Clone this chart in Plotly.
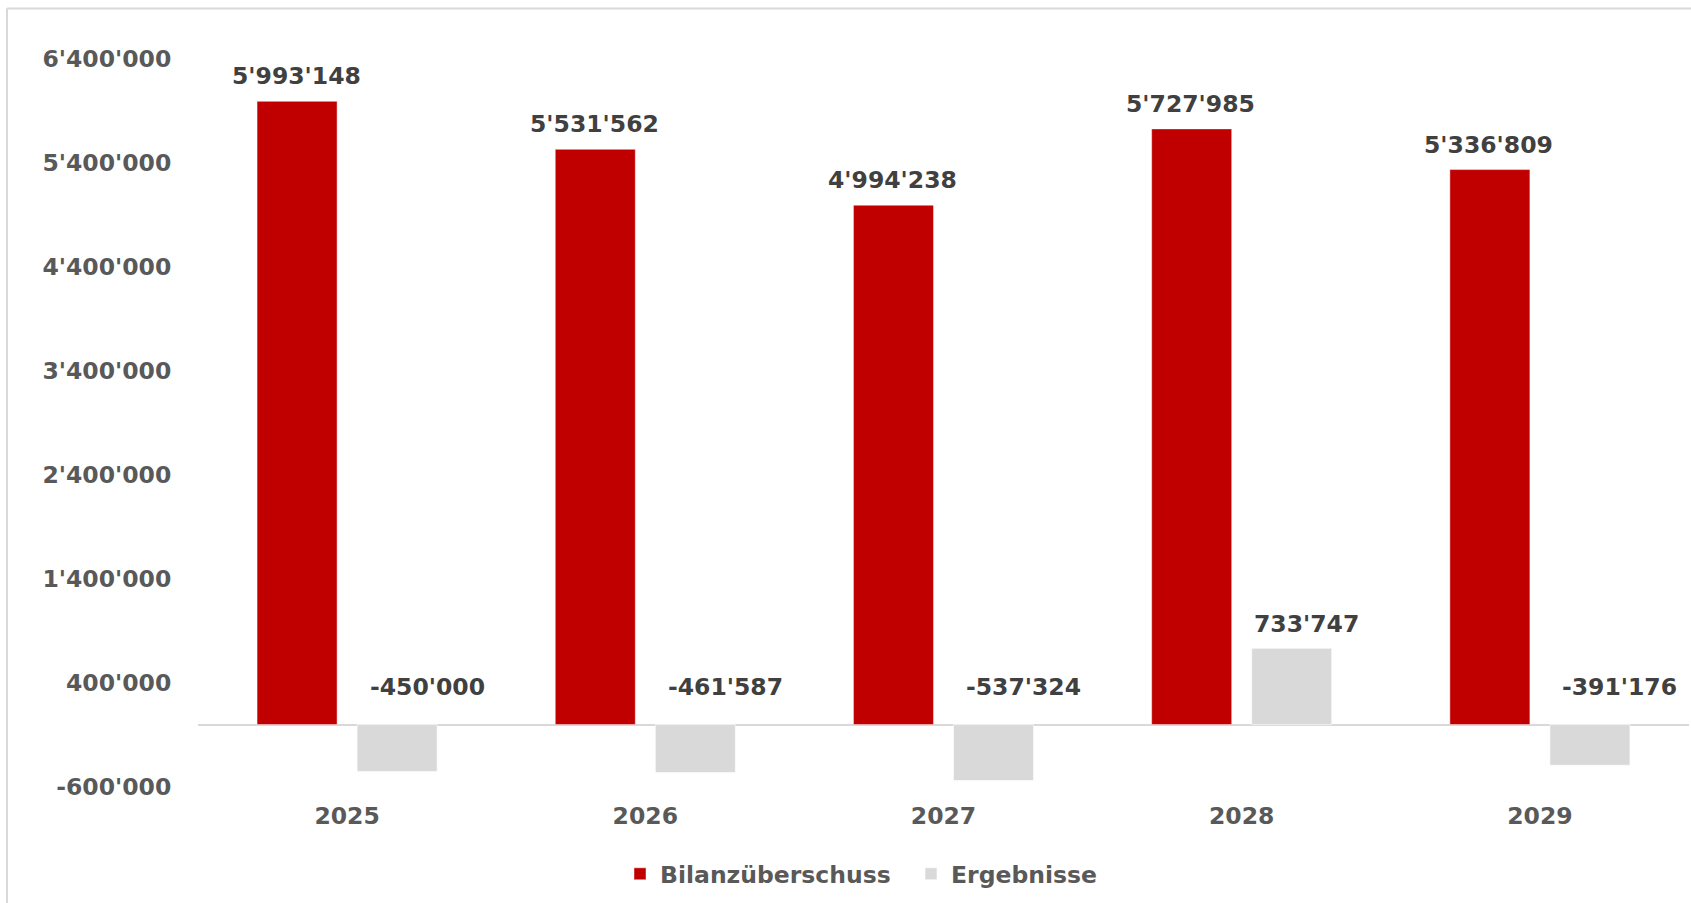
import plotly.graph_objects as go

# ---- data ----
years = ["2025", "2026", "2027", "2028", "2029"]
bilanzueberschuss = [5993148, 5531562, 4994238, 5727985, 5336809]
ergebnisse = [-450000, -461587, -537324, 733747, -391176]
y_ticks = [-600000, 400000, 1400000, 2400000, 3400000, 4400000, 5400000, 6400000]


def fmt(v):
    return f"{v:,}".replace(",", "'")


RED = "#C00000"
GREY = "#D9D9D9"
TICK_COLOR = "#595959"
LABEL_COLOR = "#404040"
FONT = "DejaVu Sans"
FS = 23.5

W, H = 1691, 903
M_L, M_R, M_T, M_B = 198, 2, 59, 116
plot_w = W - M_L - M_R
plot_h = H - M_T - M_B

bargap = 0.329
bargroupgap = 0.2
half_offset = (1 - bargap) / 4  # centre offset of each bar in a 2-bar group

fig = go.Figure()
fig.add_trace(go.Bar(
    name="Bilanzüberschuss", x=years, y=bilanzueberschuss,
    marker=dict(color=RED, line=dict(color="rgba(255,255,255,0.45)", width=1)),
))
fig.add_trace(go.Bar(
    name="Ergebnisse", x=years, y=ergebnisse,
    marker=dict(color=GREY, line=dict(color="rgba(255,255,255,0.6)", width=1)),
))

label_font = dict(family=FONT, size=FS, color=LABEL_COLOR, weight="bold")
annotations = []
for i, v in enumerate(bilanzueberschuss):
    annotations.append(dict(
        x=i - half_offset, y=v, xref="x", yref="y", text=fmt(v),
        showarrow=False, yanchor="middle", xanchor="center", yshift=25, xshift=-1,
        font=label_font,
    ))
for i, v in enumerate(ergebnisse):
    if v >= 0:
        annotations.append(dict(
            x=i + half_offset, y=v, xref="x", yref="y", text=fmt(v),
            showarrow=False, yanchor="middle", xanchor="center", yshift=24, xshift=15,
            font=label_font,
        ))
    else:
        annotations.append(dict(
            x=i + half_offset, y=0, xref="x", yref="y", text=fmt(v),
            showarrow=False, yanchor="middle", xanchor="center", yshift=38, xshift=30,
            font=label_font,
        ))

# outer chart-area border (top and left visible)
bx0 = (7 - M_L) / plot_w
by_top = (M_T + plot_h - 8.5) / plot_h
shapes = [
    dict(type="line", xref="paper", yref="paper", x0=bx0, x1=1.1, y0=by_top, y1=by_top,
         line=dict(color="#D9D9D9", width=2)),
    dict(type="line", xref="paper", yref="paper", x0=bx0, x1=bx0, y0=by_top, y1=-0.3,
         line=dict(color="#D9D9D9", width=2)),
]

fig.update_layout(
    width=W, height=H,
    margin=dict(l=M_L, r=M_R, t=M_T, b=M_B),
    paper_bgcolor="white", plot_bgcolor="white",
    barmode="group", bargap=bargap, bargroupgap=bargroupgap,
    showlegend=True,
    legend=dict(
        orientation="h", x=(620 - M_L) / plot_w, xanchor="left",
        y=-(874 - M_T - plot_h) / plot_h, yanchor="middle",
        entrywidth=246, entrywidthmode="pixels",
        font=dict(family=FONT, size=FS, color=TICK_COLOR, weight="bold"),
        bgcolor="rgba(0,0,0,0)",
    ),
    annotations=annotations,
    shapes=shapes,
    xaxis=dict(
        type="category", showgrid=False, showline=False, zeroline=False,
        ticks="outside", ticklen=8, tickcolor="rgba(0,0,0,0)",
        tickfont=dict(family=FONT, size=FS, color=TICK_COLOR, weight="bold"),
    ),
    yaxis=dict(
        range=[y_ticks[0], y_ticks[-1]], showgrid=False, showline=False,
        zeroline=True, zerolinecolor="#D9D9D9", zerolinewidth=2,
        tickvals=y_ticks, ticktext=[fmt(v) for v in y_ticks],
        ticks="outside", ticklen=21, tickcolor="rgba(0,0,0,0)",
        tickfont=dict(family=FONT, size=FS, color=TICK_COLOR, weight="bold"),
    ),
)

fig.write_html("out.html")
